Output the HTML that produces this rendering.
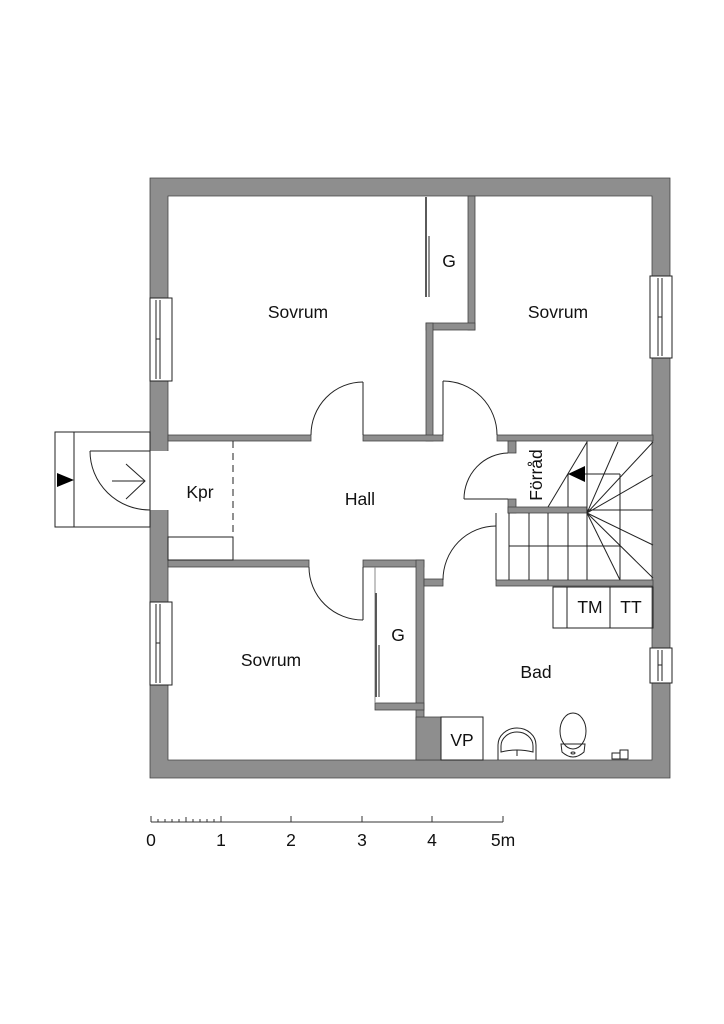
<!DOCTYPE html>
<html><head><meta charset="utf-8"><style>
html,body{margin:0;padding:0;background:#fff;}
svg{display:block;}
text{font-family:"Liberation Sans",sans-serif;fill:#111;}
</style></head><body>
<svg width="724" height="1024" viewBox="0 0 724 1024" xmlns="http://www.w3.org/2000/svg">
<rect width="724" height="1024" fill="#fff"/>
<g fill="#8e8e8e" stroke="#444" stroke-width="0.8">
<path fill-rule="evenodd" d="M150,178H670V778H150Z M168,196H652V760H168Z"/>
<rect x="468" y="196" width="7" height="134"/>
<rect x="426" y="323" width="49" height="7"/>
<rect x="426" y="323" width="7" height="118"/>
<rect x="168" y="435" width="143" height="6"/>
<rect x="363" y="435" width="80" height="6"/>
<rect x="497" y="435" width="156" height="6"/>
<rect x="508" y="441" width="8" height="12"/>
<rect x="508" y="499" width="8" height="14"/>
<rect x="508" y="507" width="79" height="6"/>
<rect x="168" y="560" width="141" height="7"/>
<rect x="363" y="560" width="61" height="7"/>
<rect x="416" y="560" width="8" height="200"/>
<rect x="375" y="703" width="49" height="7"/>
<rect x="416" y="717" width="25" height="43"/>
<rect x="424" y="579" width="19" height="7"/>
<rect x="496" y="580" width="157" height="6"/>
</g>
<g fill="none" stroke="#222" stroke-width="1">
<rect x="148" y="451" width="22" height="59" fill="#fff" stroke="none"/>
<rect x="55" y="432" width="95" height="95"/>
<line x1="74" y1="432" x2="74" y2="527"/>
<line x1="90" y1="451" x2="150" y2="451"/>
<path d="M90,451 A60,59 0 0 0 150,510"/>
<line x1="112" y1="481" x2="145" y2="481"/>
<polyline points="126,464 145,481 126,499"/>
<rect x="150" y="298" width="22" height="83" fill="#fff"/>
<line x1="156" y1="300" x2="156" y2="379"/><line x1="160" y1="300" x2="160" y2="379"/><line x1="156" y1="339" x2="160" y2="339"/>
<rect x="150" y="602" width="22" height="83" fill="#fff"/>
<line x1="156" y1="604" x2="156" y2="683"/><line x1="160" y1="604" x2="160" y2="683"/><line x1="156" y1="643" x2="160" y2="643"/>
<rect x="650" y="276" width="22" height="82" fill="#fff"/>
<line x1="658" y1="278" x2="658" y2="356"/><line x1="662" y1="278" x2="662" y2="356"/><line x1="658" y1="317" x2="662" y2="317"/>
<rect x="650" y="648" width="22" height="35" fill="#fff"/>
<line x1="658" y1="650" x2="658" y2="681"/><line x1="662" y1="650" x2="662" y2="681"/><line x1="658" y1="665" x2="662" y2="665"/>
<line x1="363" y1="435" x2="363" y2="382"/>
<path d="M311,435 A52,53 0 0 1 363,382"/>
<line x1="443" y1="435" x2="443" y2="381"/>
<path d="M443,381 A54,54 0 0 1 497,435"/>
<line x1="363" y1="567" x2="363" y2="620"/>
<path d="M309,567 A54,53 0 0 0 363,620"/>
<line x1="496" y1="580" x2="496" y2="526"/>
<path d="M496,526 A53,54 0 0 0 443,580"/>
<line x1="464" y1="499" x2="508" y2="499"/>
<path d="M464,499 A45,46 0 0 1 508,453"/>
<line x1="496" y1="513" x2="496" y2="580"/>
<line x1="426" y1="197" x2="426" y2="297" stroke-width="1.5"/>
<line x1="429" y1="236" x2="429" y2="297"/>
<line x1="376" y1="593" x2="376" y2="697" stroke-width="1.5"/>
<line x1="379" y1="645" x2="379" y2="697"/>
<line x1="375" y1="567" x2="375" y2="703" stroke="#888"/>
<line x1="233" y1="441" x2="233" y2="537" stroke-dasharray="7,5"/>
<rect x="168" y="537" width="65" height="23"/>
<line x1="509" y1="513" x2="509" y2="580"/>
<line x1="529" y1="513" x2="529" y2="580"/>
<line x1="548" y1="513" x2="548" y2="580"/>
<line x1="568" y1="513" x2="568" y2="580"/>
<line x1="587" y1="441" x2="587" y2="580"/>
<line x1="509" y1="546" x2="620" y2="546"/>
<line x1="620" y1="474" x2="620" y2="580"/>
<line x1="568" y1="474" x2="620" y2="474"/>
<line x1="568" y1="474" x2="568" y2="507"/>
<line x1="587" y1="510" x2="653" y2="510"/>
<line x1="548" y1="507" x2="587" y2="442"/>
<line x1="587" y1="513" x2="618" y2="442"/>
<line x1="587" y1="513" x2="653" y2="442"/>
<line x1="587" y1="513" x2="653" y2="475"/>
<line x1="587" y1="513" x2="653" y2="545"/>
<line x1="587" y1="513" x2="653" y2="578"/>
<line x1="587" y1="513" x2="620" y2="580"/>
<rect x="553" y="587" width="100" height="41"/>
<line x1="567" y1="587" x2="567" y2="628"/>
<line x1="610" y1="587" x2="610" y2="628"/>
<rect x="441" y="717" width="42" height="43"/>
<path d="M498,760 V745 A19,17 0 0 1 536,745 V760"/>
<path d="M501,752 V746 A16,14 0 0 1 533,746 V752 Q517,748 501,752Z"/>
<line x1="517" y1="750" x2="517" y2="756"/>
<ellipse cx="573" cy="731" rx="13" ry="18"/>
<path d="M561,744 L562,752 Q573,762 584,752 L585,744Z"/>
<ellipse cx="573" cy="753" rx="2" ry="1"/>
<rect x="612" y="753" width="8" height="6"/>
<rect x="620" y="750" width="8" height="9"/>
</g>
<polygon points="57,473 57,487 74,480" fill="#000"/>
<polygon points="568,474 585,466 585,482" fill="#000"/>
<g font-size="17.5" text-anchor="middle">
<text x="298" y="318">Sovrum</text>
<text x="558" y="318">Sovrum</text>
<text x="271" y="666">Sovrum</text>
<text x="449" y="267">G</text>
<text x="398" y="641">G</text>
<text x="200" y="498">Kpr</text>
<text x="360" y="505">Hall</text>
<text x="536" y="678">Bad</text>
<text x="590" y="613">TM</text>
<text x="631" y="613">TT</text>
<text x="462" y="746">VP</text>
<text x="0" y="0" transform="translate(542,475) rotate(-90)">Förråd</text>
</g>
<g stroke="#333" stroke-width="1">
<line x1="151" y1="822" x2="503" y2="822"/>
<line x1="151" y1="816" x2="151" y2="822"/><line x1="221" y1="816" x2="221" y2="822"/>
<line x1="291" y1="816" x2="291" y2="822"/><line x1="362" y1="816" x2="362" y2="822"/>
<line x1="432" y1="816" x2="432" y2="822"/><line x1="503" y1="816" x2="503" y2="822"/>
<line x1="158" y1="819" x2="158" y2="822"/><line x1="165" y1="819" x2="165" y2="822"/>
<line x1="172" y1="819" x2="172" y2="822"/><line x1="179" y1="819" x2="179" y2="822"/>
<line x1="186" y1="817" x2="186" y2="822"/><line x1="193" y1="819" x2="193" y2="822"/>
<line x1="200" y1="819" x2="200" y2="822"/><line x1="207" y1="819" x2="207" y2="822"/>
<line x1="214" y1="819" x2="214" y2="822"/>
</g>
<g font-size="17.5" text-anchor="middle">
<text x="151" y="846">0</text><text x="221" y="846">1</text><text x="291" y="846">2</text>
<text x="362" y="846">3</text><text x="432" y="846">4</text><text x="503" y="846">5m</text>
</g>
</svg>
</body></html>
